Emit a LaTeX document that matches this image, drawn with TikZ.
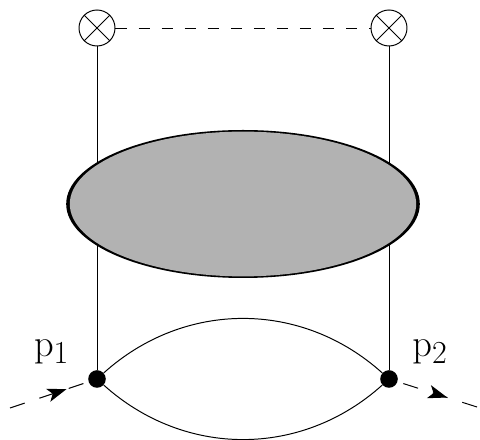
\documentclass[tikz,border=0pt]{standalone}
\usepackage{amsmath,amssymb}
\usetikzlibrary{arrows.meta,decorations.markings,shapes.geometric}

\begin{document}
\begin{tikzpicture}[
    crossvertex/.style={draw, circle, fill=white, inner sep=0pt, minimum size=0.9cm, line width=0.7pt,
        path picture={\draw (path picture bounding box.north west) -- (path picture bounding box.south east)
            (path picture bounding box.north east) -- (path picture bounding box.south west);}},
    dotvertex/.style={circle, fill=black, inner sep=0pt, minimum size=0.44cm},
    blobrim/.style={ellipse, fill=black, inner sep=0pt, minimum width=8.84cm, minimum height=3.7cm},
    blobfill/.style={ellipse, fill=black!30, inner sep=0pt, minimum width=8.66cm, minimum height=3.62cm},
    propagator/.style={line width=0.7pt},
    scalar/.style={line width=0.7pt, dash pattern=on 8pt off 8.4pt},
    leg/.style={line width=0.7pt, dash pattern=on 11pt off 11pt},
    arrowin/.style={postaction={decorate}, decoration={markings, mark=at position #1 with {\arrow{Stealth[length=4.8mm,width=3.4mm,inset=1.2mm]}}}},
    arrowout/.style={postaction={decorate}, decoration={markings, mark=at position #1 with {\arrowreversed{Stealth[length=4.8mm,width=3.4mm,inset=1.2mm]}}}},
    momentum/.style={font=\Huge, scale=1.1}
]
\useasboundingbox (0,0) rectangle (12,11);

% Insertions and vertices
\node[crossvertex] (crossL) at (2.425,10.3) {};
\node[crossvertex] (crossR) at (9.725,10.3) {};
\node[dotvertex] (vertL) at (2.425,1.525) {};
\node[dotvertex] (vertR) at (9.725,1.525) {};

% External legs
\coordinate (legL) at (0.25,0.8);
\coordinate (legR) at (11.925,0.825);

% Dashed line
\draw[scalar] (crossL) -- (crossR);

% Vertical lines
\draw[propagator] (crossL) -- (vertL);
\draw[propagator] (crossR) -- (vertR);

% Blob
\node[blobrim] (blobOuter) at (6.075,5.9) {};
\node[blobfill] (blobInner) at (blobOuter.center) {};

% Loop
\draw[propagator] (vertL) to[bend left=42] (vertR);
\draw[propagator] (vertL) to[bend right=42] (vertR);

% External momenta
\draw[leg, arrowin=0.72] (legL) -- (vertL);
\draw[leg, arrowout=0.375] (legR) -- (vertR);

% Labels
\node[momentum] (labelL) at (1.29,2.2) {$\mathrm{p}_1$};
\node[momentum] (labelR) at (10.75,2.2) {$\mathrm{p}_2$};

\end{tikzpicture}
\end{document}
